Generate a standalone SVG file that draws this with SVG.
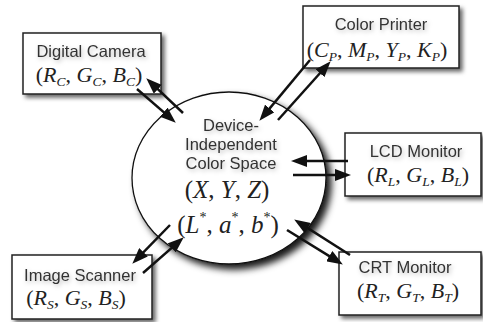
<svg xmlns="http://www.w3.org/2000/svg" width="483" height="322" viewBox="0 0 483 322">
<style>
.box{fill:#fff;stroke:#222;stroke-width:1.5;filter:url(#sh)}
.ell{fill:#fff;stroke:#111;stroke-width:1.3;filter:url(#esh)}
.lbl{font-family:"Liberation Sans",Arial,sans-serif;font-size:16.5px;fill:#333;text-anchor:middle;filter:url(#tsh)}
.f{font-family:"Liberation Serif","Times New Roman",serif;font-size:22px;fill:#222;text-anchor:middle}
.fe{font-size:25px}
.i{font-style:italic}
.s{font-style:italic;font-size:13.5px}
.sup{font-size:14px}
.c{stroke:#111;stroke-width:2.5;fill:none;marker-end:url(#ah)}
</style>
<defs>
<filter id="sh" x="-20%" y="-20%" width="150%" height="160%">
<feDropShadow dx="3" dy="3" stdDeviation="2" flood-color="#000" flood-opacity="0.6"/>
</filter>
<filter id="esh" x="-20%" y="-20%" width="150%" height="150%">
<feDropShadow dx="5" dy="5" stdDeviation="3.5" flood-color="#000" flood-opacity="0.9"/>
</filter>
<filter id="tsh" x="-20%" y="-50%" width="140%" height="200%">
<feDropShadow dx="1.5" dy="2" stdDeviation="2" flood-color="#000" flood-opacity="0.25"/>
</filter>
<marker id="ah" markerUnits="userSpaceOnUse" markerWidth="16" markerHeight="12" refX="11" refY="6" orient="auto">
<path d="M0,0 L16,6 L0,12 z" fill="#111"/>
</marker>
</defs>

<g id="color-space">
<ellipse class="ell" cx="229" cy="178" rx="97" ry="86"/>
<text class="lbl" x="231" y="131">Device-</text>
<text class="lbl" x="231" y="150">Independent</text>
<text class="lbl" x="231" y="169">Color Space</text>
<text class="f fe" x="227" y="198">(<tspan class="i">X</tspan>, <tspan class="i">Y</tspan>, <tspan class="i">Z</tspan>)</text>
<text class="f fe" x="228" y="233">(<tspan class="i">L</tspan><tspan class="sup" dy="-11">*</tspan><tspan dy="11">, </tspan><tspan class="i">a</tspan><tspan class="sup" dy="-11">*</tspan><tspan dy="11">, </tspan><tspan class="i">b</tspan><tspan class="sup" dy="-11">*</tspan><tspan dy="11">)</tspan></text>
</g>

<g id="digital-camera">
<rect class="box" x="23" y="33" width="138" height="61"/>
<text class="lbl" x="91" y="57">Digital Camera</text>
<text class="f" x="89" y="82">(<tspan class="i">R</tspan><tspan class="s" dy="4">C</tspan><tspan dy="-4">, </tspan><tspan class="i">G</tspan><tspan class="s" dy="4">C</tspan><tspan dy="-4">, </tspan><tspan class="i">B</tspan><tspan class="s" dy="4">C</tspan><tspan dy="-4">)</tspan></text>
</g>

<g id="color-printer">
<rect class="box" x="303" y="6" width="156" height="62"/>
<text class="lbl" x="381" y="30">Color Printer</text>
<text class="f" x="377" y="57">(<tspan class="i">C</tspan><tspan class="s" dy="4">P</tspan><tspan dy="-4">, </tspan><tspan class="i">M</tspan><tspan class="s" dy="4">P</tspan><tspan dy="-4">, </tspan><tspan class="i">Y</tspan><tspan class="s" dy="4">P</tspan><tspan dy="-4">, </tspan><tspan class="i">K</tspan><tspan class="s" dy="4">P</tspan><tspan dy="-4">)</tspan></text>
</g>

<g id="lcd-monitor">
<rect class="box" x="345" y="133" width="136" height="63"/>
<text class="lbl" x="416" y="157">LCD Monitor</text>
<text class="f" x="418" y="182">(<tspan class="i">R</tspan><tspan class="s" dy="4">L</tspan><tspan dy="-4">, </tspan><tspan class="i">G</tspan><tspan class="s" dy="4">L</tspan><tspan dy="-4">, </tspan><tspan class="i">B</tspan><tspan class="s" dy="4">L</tspan><tspan dy="-4">)</tspan></text>
</g>

<g id="image-scanner">
<rect class="box" x="12" y="255" width="140" height="64"/>
<text class="lbl" x="80" y="281">Image Scanner</text>
<text class="f" x="76" y="305">(<tspan class="i">R</tspan><tspan class="s" dy="4">S</tspan><tspan dy="-4">, </tspan><tspan class="i">G</tspan><tspan class="s" dy="4">S</tspan><tspan dy="-4">, </tspan><tspan class="i">B</tspan><tspan class="s" dy="4">S</tspan><tspan dy="-4">)</tspan></text>
</g>

<g id="crt-monitor">
<rect class="box" x="339" y="252" width="142" height="63"/>
<text class="lbl" x="405" y="273">CRT Monitor</text>
<text class="f" x="408" y="298">(<tspan class="i">R</tspan><tspan class="s" dy="4">T</tspan><tspan dy="-4">, </tspan><tspan class="i">G</tspan><tspan class="s" dy="4">T</tspan><tspan dy="-4">, </tspan><tspan class="i">B</tspan><tspan class="s" dy="4">T</tspan><tspan dy="-4">)</tspan></text>
</g>

<g id="connectors">
<line class="c" x1="137" y1="89" x2="172" y2="119.4"/>
<line class="c" x1="183" y1="113" x2="149.9" y2="81.7"/>
<line class="c" x1="310" y1="60" x2="262.6" y2="116.9"/>
<line class="c" x1="278" y1="120" x2="327.3" y2="65"/>
<line class="c" x1="348" y1="161" x2="296" y2="161"/>
<line class="c" x1="293" y1="175" x2="346" y2="175"/>
<line class="c" x1="170" y1="225" x2="135.8" y2="260.1"/>
<line class="c" x1="143" y1="273" x2="180" y2="240.6"/>
<line class="c" x1="350" y1="255" x2="298.4" y2="222.1"/>
<line class="c" x1="287" y1="230" x2="338.6" y2="261.9"/>
</g>
</svg>
